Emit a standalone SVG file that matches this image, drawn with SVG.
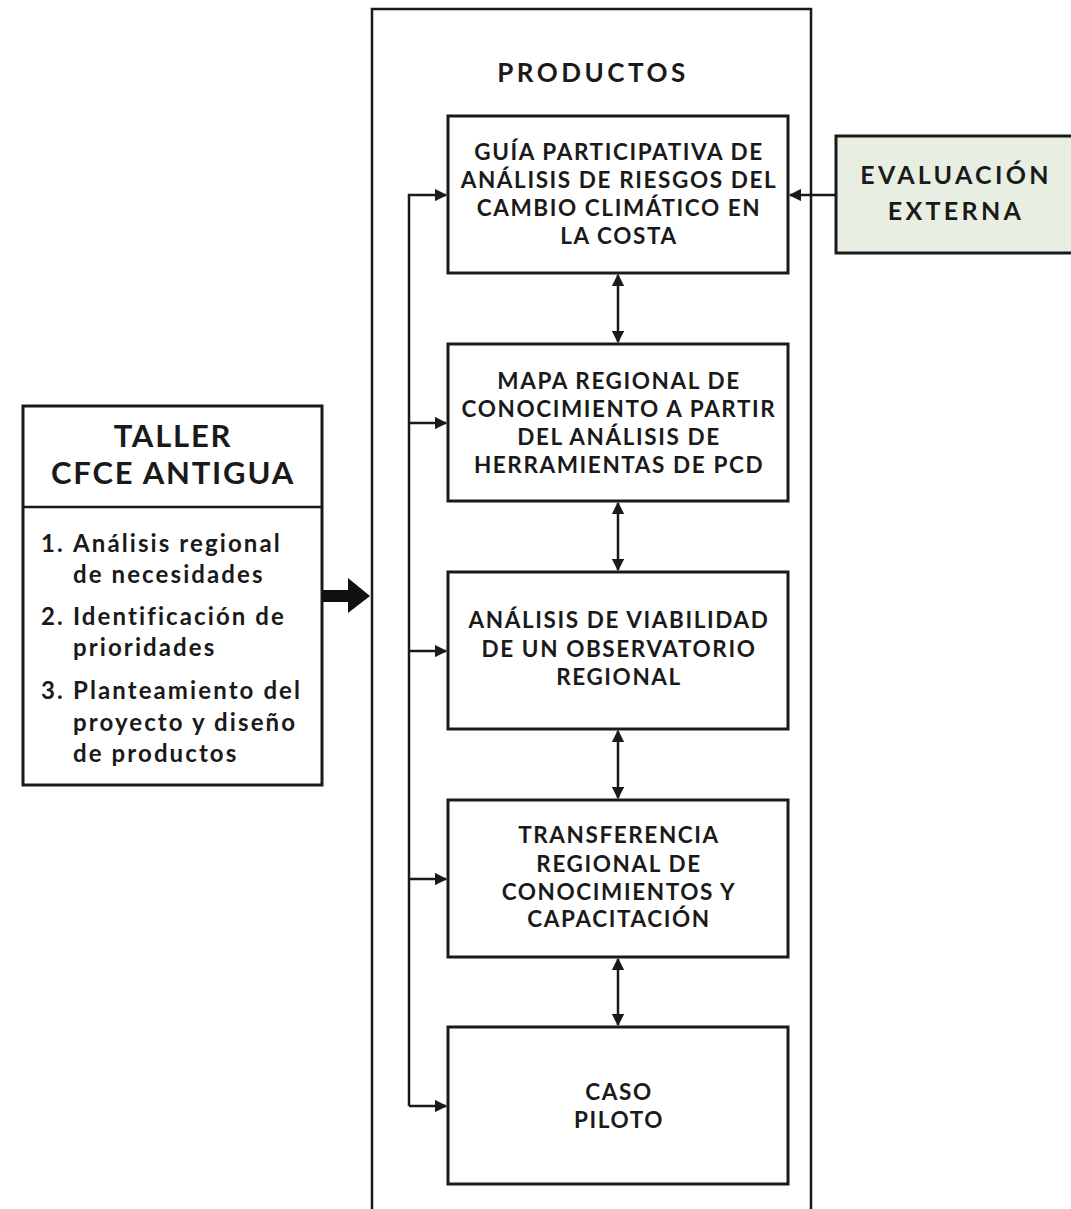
<svg xmlns="http://www.w3.org/2000/svg" width="1071" height="1209" viewBox="0 0 1071 1209">
<defs>
<style>
.box{fill:#ffffff;stroke:#1a1a1a;stroke-width:3}
.ln{fill:none;stroke:#1a1a1a;stroke-width:2.5}
.t{font-family:Lato,"Open Sans","Liberation Sans",sans-serif;font-weight:700;fill:#1a1a1a;text-anchor:middle}
.bt{font-size:22.5px;letter-spacing:1.6px}
.lt{font-family:Lato,"Open Sans","Liberation Sans",sans-serif;font-weight:700;fill:#1a1a1a;font-size:24px;letter-spacing:2.1px}
</style>
<marker id="ah" viewBox="0 0 10 10" refX="9" refY="5" markerWidth="5" markerHeight="5" orient="auto-start-reverse" markerUnits="strokeWidth">
<path d="M0,0 L10,5 L0,10 Z" fill="#1a1a1a"/>
</marker>
</defs>
<rect width="1071" height="1209" fill="#ffffff"/>

<g id="productos">
<path class="ln" d="M372,1215 L372,9 L811,9 L811,1215" stroke-width="3"/>
<text class="t" x="593" y="82" font-size="26" letter-spacing="3.5">PRODUCTOS</text>
</g>

<g id="taller">
<rect class="box" x="23" y="406" width="299" height="379"/>
<line class="ln" x1="23" y1="507" x2="322" y2="507" stroke-width="3"/>
<text class="t" x="173" y="447" font-size="31" letter-spacing="1.8">TALLER</text>
<text class="t" x="173" y="484" font-size="31" letter-spacing="1.8">CFCE ANTIGUA</text>
<text class="lt" x="41" y="552">1.</text>
<text class="lt" x="73" y="552">Análisis regional</text>
<text class="lt" x="73" y="583">de necesidades</text>
<text class="lt" x="41" y="625">2.</text>
<text class="lt" x="73" y="625">Identificación de</text>
<text class="lt" x="73" y="656">prioridades</text>
<text class="lt" x="41" y="699">3.</text>
<text class="lt" x="73" y="699">Planteamiento del</text>
<text class="lt" x="73" y="731">proyecto y diseño</text>
<text class="lt" x="73" y="762">de productos</text>
</g>

<g id="evaluacion">
<rect x="836" y="136" width="245" height="117" fill="#e8efe2" stroke="#1a1a1a" stroke-width="3"/>
<text class="t" x="956" y="184" font-size="25" letter-spacing="3.3">EVALUACIÓN</text>
<text class="t" x="956" y="220" font-size="25" letter-spacing="3.3">EXTERNA</text>
</g>

<g id="p1">
<rect class="box" x="448" y="116" width="340" height="157"/>
<text class="t bt" x="619" y="160">GUÍA PARTICIPATIVA DE</text>
<text class="t bt" x="619" y="188">ANÁLISIS DE RIESGOS DEL</text>
<text class="t bt" x="619" y="216">CAMBIO CLIMÁTICO EN</text>
<text class="t bt" x="619" y="244">LA COSTA</text>
</g>
<g id="p2">
<rect class="box" x="448" y="344" width="340" height="157"/>
<text class="t bt" x="619" y="389">MAPA REGIONAL DE</text>
<text class="t bt" x="619" y="417">CONOCIMIENTO A PARTIR</text>
<text class="t bt" x="619" y="445">DEL ANÁLISIS DE</text>
<text class="t bt" x="619" y="473">HERRAMIENTAS DE PCD</text>
</g>
<g id="p3">
<rect class="box" x="448" y="572" width="340" height="157"/>
<text class="t bt" x="619" y="628">ANÁLISIS DE VIABILIDAD</text>
<text class="t bt" x="619" y="657">DE UN OBSERVATORIO</text>
<text class="t bt" x="619" y="685">REGIONAL</text>
</g>
<g id="p4">
<rect class="box" x="448" y="800" width="340" height="157"/>
<text class="t bt" x="619" y="843">TRANSFERENCIA</text>
<text class="t bt" x="619" y="872">REGIONAL DE</text>
<text class="t bt" x="619" y="900">CONOCIMIENTOS Y</text>
<text class="t bt" x="619" y="927">CAPACITACIÓN</text>
</g>
<g id="p5">
<rect class="box" x="448" y="1027" width="340" height="157"/>
<text class="t bt" x="619" y="1100">CASO</text>
<text class="t bt" x="619" y="1128">PILOTO</text>
</g>

<g id="connectors">
<path d="M322,590 L348,590 L348,578 L370,596 L348,613 L348,602 L322,602 Z" fill="#111111"/>
<path class="ln" d="M409,1106 L409,195 L446,195" marker-end="url(#ah)"/>
<line class="ln" x1="409" y1="423" x2="446" y2="423" marker-end="url(#ah)"/>
<line class="ln" x1="409" y1="651" x2="446" y2="651" marker-end="url(#ah)"/>
<line class="ln" x1="409" y1="879" x2="446" y2="879" marker-end="url(#ah)"/>
<line class="ln" x1="409" y1="1106" x2="446" y2="1106" marker-end="url(#ah)"/>
<line class="ln" x1="836" y1="195" x2="790" y2="195" marker-end="url(#ah)"/>
<line class="ln" x1="618" y1="275" x2="618" y2="342" marker-start="url(#ah)" marker-end="url(#ah)"/>
<line class="ln" x1="618" y1="503" x2="618" y2="570" marker-start="url(#ah)" marker-end="url(#ah)"/>
<line class="ln" x1="618" y1="731" x2="618" y2="798" marker-start="url(#ah)" marker-end="url(#ah)"/>
<line class="ln" x1="618" y1="959" x2="618" y2="1025" marker-start="url(#ah)" marker-end="url(#ah)"/>
</g>
</svg>
